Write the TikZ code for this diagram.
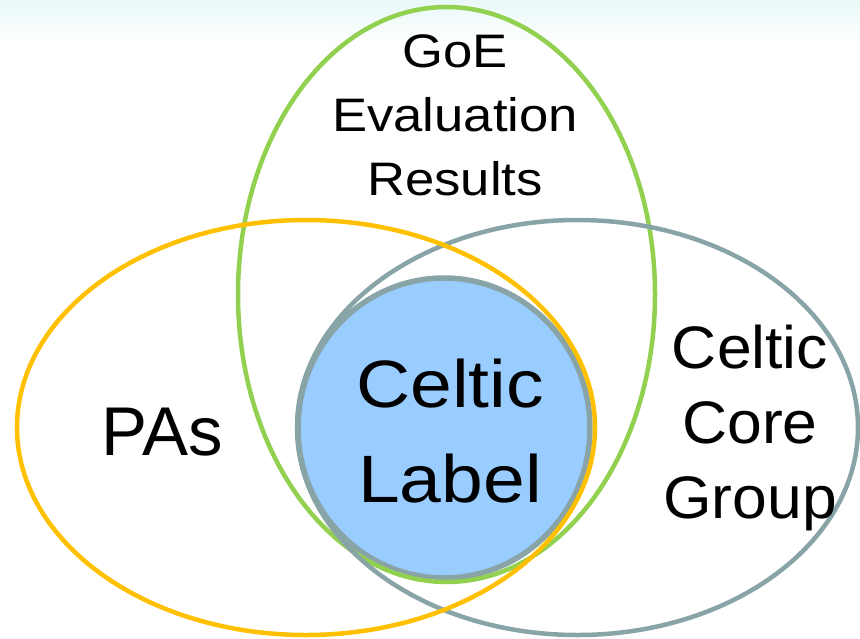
\documentclass[tikz,border=0pt]{standalone}
\usepackage{fontspec}
\setmainfont{Liberation Sans}[FakeStretch=1.12]
\newfontfamily\pasfont{Liberation Sans}
\newfontfamily\corefont{Liberation Sans}[FakeStretch=1.04]
\definecolor{goegreen}{HTML}{92D050}
\definecolor{paorange}{HTML}{FFC000}
\definecolor{coregray}{HTML}{88A4A6}
\definecolor{labelblue}{HTML}{99CCFF}
\definecolor{topcyan}{HTML}{EAF8F8}
\begin{document}
\begin{tikzpicture}[x=1pt,y=-1pt,
    setline/.style={line width=4.5pt},
    settext/.style={align=center,anchor=base,inner sep=0pt}]
    \useasboundingbox (0,0) rectangle (860,638);
    \shade[top color=topcyan,bottom color=white] (0,0) rectangle (860,46);
    % Celtic label in the middle
    \draw[line width=5.5pt,coregray,fill=labelblue] (444,428) ellipse [x radius=146,y radius=150];
    \draw[setline,goegreen] (446.5,294.5) ellipse [x radius=208.5,y radius=287.5];
    \draw[setline,coregray] (577.5,427.5) ellipse [x radius=280.5,y radius=207.5];
    \draw[setline,paorange] (306,427.5) ellipse [x radius=289,y radius=207.5];
    % texts, anchored at the baseline of their last line
    \node[settext,font=\fontsize{47}{64}\selectfont] (goe) at (455,195) {GoE\\Evaluation\\Results};
    \node[settext,font=\pasfont\fontsize{69}{84}\selectfont] (pas) at (162,455) {PAs};
    \node[settext,font=\corefont\fontsize{60}{75}\selectfont] (core) at (750,518) {Celtic\\Core\\Group};
    \node[settext,font=\fontsize{67}{95}\selectfont] (label) at (450,502) {Celtic\\Label};
\end{tikzpicture}
\end{document}
